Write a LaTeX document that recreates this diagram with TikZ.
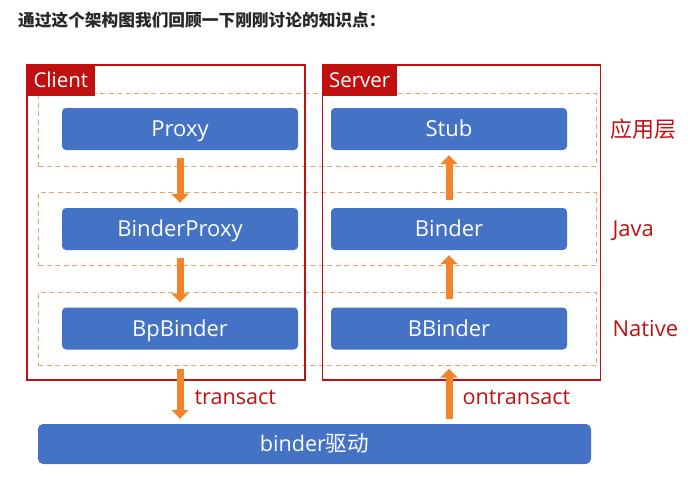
\documentclass[tikz,border=0pt]{standalone}
\usepackage{fontspec}
\setmainfont{Open Sans}
\newfontfamily\cjk{Noto Sans CJK SC}
\usetikzlibrary{arrows.meta,positioning}
\definecolor{boxblue}{RGB}{68,114,196}
\definecolor{darkred}{RGB}{192,16,16}
\definecolor{dashorange}{RGB}{240,160,100}
\definecolor{arroworange}{RGB}{244,132,44}
\definecolor{titlegray}{RGB}{40,40,40}
\begin{document}
\begin{tikzpicture}[x=1pt,y=-1pt,
  blue box/.style={fill=boxblue,rounded corners=4pt,minimum width=236pt,minimum height=42pt,
    text=white,font=\fontsize{22}{26}\selectfont,inner sep=0pt,text height=15.6pt,text depth=0pt},
  side/.style={draw=darkred,line width=1.4pt,minimum width=278pt,minimum height=315pt,inner sep=0pt},
  tab/.style={fill=darkred,text=white,font=\fontsize{20.5}{24}\selectfont,anchor=north west,
    minimum height=31pt,inner xsep=7pt,inner ysep=0pt,text height=14.6pt,text depth=0pt},
  layer/.style={draw=dashorange,dashed,dash pattern=on 5pt off 3.5pt,line width=0.8pt,
    minimum width=558pt,minimum height=73pt,inner sep=0pt},
  layer label/.style={text=darkred,font=\fontsize{22}{26}\selectfont,anchor=west,inner sep=0pt,
    text height=15.6pt,text depth=0pt},
  flow/.style={draw=arroworange,line width=7pt,-{Triangle[width=17pt,length=9pt]}},
  call label/.style={text=darkred,font=\fontsize{21.6}{26}\selectfont,anchor=west,inner sep=0pt,
    text height=11pt,text depth=0pt}]
\useasboundingbox (0,0) rectangle (696,490);
\node[anchor=west,inner sep=0pt,text=titlegray,font=\cjk\bfseries\fontsize{16.7}{20}\selectfont] (title) at (18,20) {通过这个架构图我们回顾一下刚刚讨论的知识点：};
% layers
\node[layer] (l1) at (317,129.5) {};
\node[layer] (l2) at (317,229) {};
\node[layer] (l3) at (317,329) {};
% sides
\node[side] (client) at (166,222.5) {};
\node[side] (server) at (461.5,222.5) {};
\node[tab] (clienttab) at (client.north west) {Client};
\node[tab] (servertab) at (server.north west) {Server};
% boxes
\node[blue box] (proxy) at (180,129) {Proxy};
\node[blue box] (bproxy) at (180,229) {BinderProxy};
\node[blue box] (bpbinder) at (180,328.5) {BpBinder};
\node[blue box] (stub) at (449,129) {Stub};
\node[blue box] (binder) at (449,229) {Binder};
\node[blue box] (bbinder) at (449,328.5) {BBinder};
\node[fill=boxblue,rounded corners=5pt,minimum width=553pt,minimum height=40pt,inner sep=0pt,
  text=white,font=\fontsize{21.6}{26}\selectfont,text height=15.4pt,text depth=0pt] (driver) at (314.5,444) {binder{\cjk 驱动}};
% layer labels
\node[layer label] (lab1) at ([xshift=14pt]l1.east) {\cjk 应用层};
\node[layer label] (lab2) at ([xshift=16pt]l2.east) {Java};
\node[layer label] (lab3) at ([xshift=16pt]l3.east) {Native};
% arrows
\draw[flow,shorten <=8pt,shorten >=5pt] (proxy.south) -- (bproxy.north);
\draw[flow,shorten <=8pt,shorten >=5pt] (bproxy.south) -- (bpbinder.north);
\draw[flow,shorten <=8pt,shorten >=5pt] (bbinder.north) -- (binder.south);
\draw[flow,shorten <=8pt,shorten >=5pt] (binder.north) -- (stub.south);
\draw[flow,shorten <=19pt,shorten >=5pt] (bpbinder.south) -- (bpbinder.south |- driver.north)
  node[call label,pos=0.66,xshift=11pt] (tlabel) {transact};
\draw[flow,shorten <=5pt,shorten >=19pt] (bbinder.south |- driver.north) -- (bbinder.south)
  node[call label,pos=0.34,xshift=10pt] (olabel) {ontransact};
\end{tikzpicture}
\end{document}
